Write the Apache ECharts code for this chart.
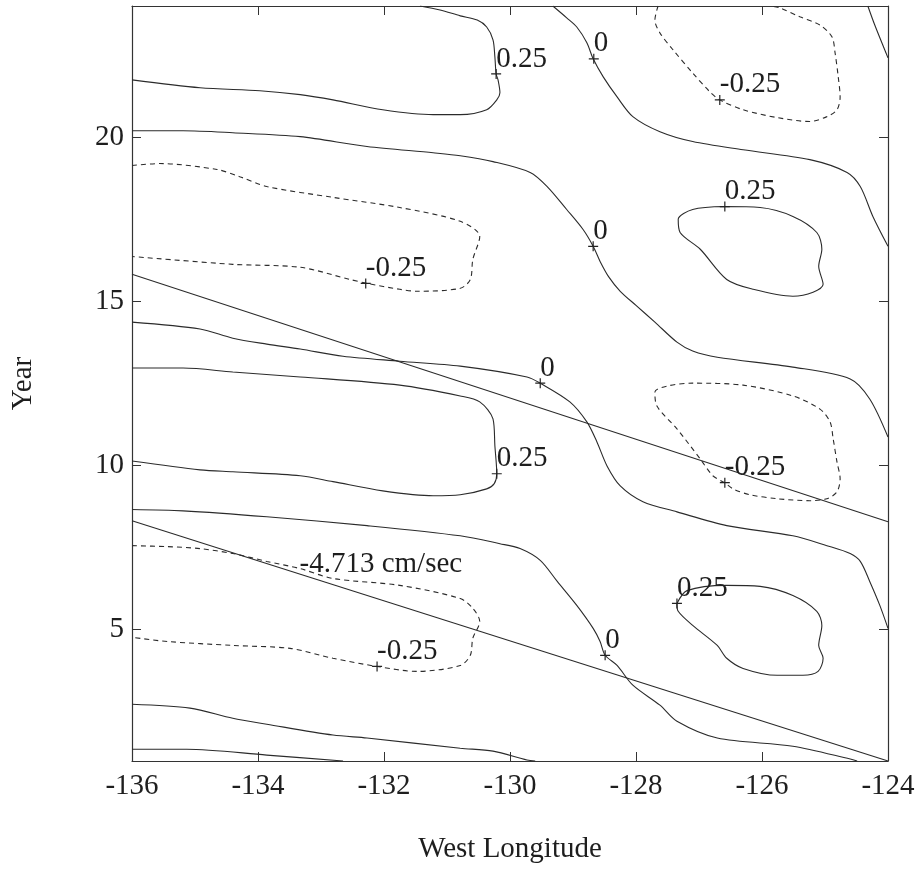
<!DOCTYPE html>
<html>
<head>
<meta charset="utf-8">
<script src="https://cdn.jsdelivr.net/npm/echarts@6/dist/echarts.min.js"></script>
<style>
html,body{margin:0;padding:0;background:#fff;}
#chart{width:920px;height:869px;}
</style>
</head>
<body>
<div id="chart"></div>
<script>
// ---- axis ranges & ticks ----
const lonRange = [-136, -124];
const lonTickStep = 2;
const yearRange = [1, 24];
const yearTicks = [5, 10, 15, 20];

// ---- contour lines: [longitude, year] ----
// level 0.25 (solid), top-left
const c025TopLeft = [[-136,21.75],[-134.92,21.51],[-133.97,21.42],[-133.33,21.30],[-132.81,21.14],[-132.02,20.84],[-131.22,20.69],[-130.79,20.69],[-130.37,20.84],[-130.21,21.14],[-130.16,21.36],[-130.19,21.75],[-130.22,21.93],[-130.24,22.45],[-130.27,22.97],[-130.37,23.36],[-130.52,23.57],[-130.79,23.70],[-131.11,23.88],[-131.43,24.0]];
// level 0 (solid), upper-middle
const c0Upper = [[-136,20.20],[-135.19,20.20],[-134.40,20.14],[-133.33,20.02],[-132.27,19.72],[-131.22,19.53],[-130.79,19.44],[-130.27,19.26],[-129.68,18.93],[-129.41,18.50],[-129.10,17.80],[-128.84,17.19],[-128.68,16.68],[-128.57,16.22],[-128.43,15.74],[-128.25,15.31],[-128.00,14.88],[-127.70,14.37],[-127.35,13.76],[-127.10,13.49],[-126.71,13.30],[-125.51,13.00],[-124.60,12.64],[-124.29,12.03],[-124.00,10.87]];
// level 0 (solid), top
const c0Top = [[-129.32,24.0],[-129.10,23.64],[-128.94,23.36],[-128.78,22.88],[-128.68,22.39],[-128.52,21.84],[-128.30,21.23],[-128.05,20.63],[-127.62,20.17],[-127.10,19.87],[-126.30,19.62],[-125.24,19.32],[-124.65,18.93],[-124.44,18.50],[-124.24,17.59],[-124.00,16.68]];
// solid, top-right corner
const cTopRightCorner = [[-124.32,24.0],[-124.21,23.42],[-124.0,22.42]];
// level -0.25 (dashed), top-right
const cm025TopRight = [[-127.65,24.0],[-127.70,23.57],[-127.62,23.18],[-127.41,22.66],[-127.10,21.96],[-126.83,21.39],[-126.67,21.14],[-126.30,20.84],[-125.76,20.60],[-125.24,20.48],[-124.97,20.63],[-124.81,20.84],[-124.76,21.23],[-124.79,21.84],[-124.84,22.57],[-124.89,23.06],[-125.08,23.42],[-125.40,23.67],[-125.71,23.94],[-125.87,24.0]];
// level 0.25 (solid), closed loop right-middle
const c025RightMid = [[-126.59,17.89],[-126.03,17.86],[-125.51,17.59],[-125.13,17.10],[-125.05,16.59],[-125.10,16.07],[-125.03,15.52],[-125.19,15.28],[-125.51,15.16],[-126.14,15.37],[-126.56,15.67],[-126.98,16.59],[-127.30,17.10],[-127.33,17.50],[-127.10,17.80],[-126.59,17.89]];
// level -0.25 (dashed), left upper
const cm025LeftUpper = [[-136,19.14],[-135.56,19.20],[-134.65,19.02],[-134.29,18.80],[-133.86,18.50],[-132.81,18.17],[-131.75,17.86],[-130.79,17.44],[-130.48,16.98],[-130.59,16.28],[-130.63,15.67],[-130.79,15.40],[-131.48,15.31],[-131.75,15.37],[-132.27,15.55],[-132.54,15.67],[-133.33,16.04],[-134.40,16.13],[-136,16.37]];
// straight propagation lines
const trendUpper = [[-136,15.83],[-124,8.29]];
const trendLower = [[-136,8.32],[-124,1.0]];
// level 0 (solid), centre
const c0Centre = [[-136,14.37],[-134.92,14.16],[-134.40,13.88],[-133.86,13.70],[-133.33,13.55],[-132.65,13.33],[-131.75,13.18],[-130.79,13.03],[-129.73,12.70],[-129.52,12.51],[-129.05,11.94],[-128.78,11.33],[-128.62,10.72],[-128.46,9.99],[-128.25,9.38],[-127.89,8.90],[-127.35,8.59],[-126.56,8.17],[-125.51,7.86],[-124.97,7.56],[-124.60,7.32],[-124.44,7.08],[-124.29,6.47],[-124.13,5.74],[-124.00,5.04]];
// level 0.25 (solid), middle-left
const c025MidLeft = [[-136,12.97],[-135.19,12.97],[-134.40,12.85],[-133.33,12.70],[-131.75,12.45],[-130.79,12.12],[-130.48,11.94],[-130.27,11.42],[-130.24,10.60],[-130.21,9.75],[-130.25,9.45],[-130.37,9.29],[-130.79,9.11],[-131.22,9.08],[-132.02,9.23],[-132.81,9.51],[-133.33,9.69],[-134.40,9.81],[-134.92,9.87],[-136,10.14]];
// level 0 (solid), lower
const c0Lower = [[-136,8.66],[-135.19,8.62],[-133.86,8.44],[-132.27,8.17],[-130.79,7.86],[-130.16,7.62],[-129.84,7.47],[-129.52,7.11],[-129.25,6.47],[-128.94,5.74],[-128.68,5.04],[-128.57,4.64],[-128.49,4.22],[-128.30,3.91],[-128.05,3.31],[-127.62,2.70],[-127.35,2.21],[-126.71,1.70],[-125.51,1.45],[-124.60,1.06],[-124.49,1.0]];
// level -0.25 (dashed), lower-left
const cm025LowerLeft = [[-136,7.56],[-135.44,7.53],[-134.92,7.47],[-134.40,7.32],[-133.86,7.08],[-133.33,6.86],[-132.81,6.56],[-131.75,6.35],[-130.79,5.95],[-130.59,5.65],[-130.48,5.25],[-130.59,4.74],[-130.63,4.22],[-130.79,3.91],[-131.48,3.73],[-132.11,3.88],[-132.81,4.13],[-133.49,4.43],[-134.40,4.52],[-135.44,4.64],[-136,4.77]];
// solid, bottom
const cBottom1 = [[-136,2.73],[-135.08,2.61],[-134.40,2.30],[-133.86,2.12],[-132.81,1.79],[-132.27,1.70],[-130.79,1.39],[-130.27,1.30],[-129.73,1.03],[-129.60,1.0]];
const cBottom2 = [[-136,1.36],[-135.13,1.36],[-133.86,1.18],[-132.65,1.0]];
// level 0.25 (solid), closed loop lower-right
const c025LowerRight = [[-127.35,5.80],[-127.19,6.19],[-126.56,6.35],[-126.03,6.32],[-125.51,6.04],[-125.13,5.56],[-125.05,5.13],[-125.10,4.52],[-125.03,4.13],[-125.11,3.73],[-125.35,3.61],[-125.76,3.61],[-126.30,3.82],[-126.56,4.13],[-126.71,4.52],[-127.10,5.13],[-127.33,5.56],[-127.35,5.80]];
// level -0.25 (dashed), closed loop middle-right
const cm025MidRight = [[-126.59,9.48],[-126.78,9.69],[-126.98,10.20],[-127.35,11.12],[-127.67,11.82],[-127.70,12.24],[-127.51,12.42],[-127.10,12.51],[-126.30,12.45],[-125.51,12.12],[-125.08,11.72],[-124.92,11.33],[-124.87,10.81],[-124.81,10.11],[-124.76,9.60],[-124.81,9.20],[-124.97,8.99],[-125.24,8.93],[-125.76,8.99],[-126.19,9.11],[-126.46,9.29],[-126.59,9.48]];

// ---- contour labels ----
const labelPoints = [[-130.22,21.93],[-128.67,22.39],[-126.67,21.14],[-126.59,17.89],[-128.68,16.68],[-132.29,15.55],[-129.52,12.51],[-130.21,9.75],[-126.59,9.48],[-127.35,5.80],[-128.49,4.22],[-132.11,3.88]];
const labelTexts = ['0.25','0','-0.25','0.25','0','-0.25','0','0.25','-0.25','0.25','0','-0.25'];
const speedLabelPoint = [-132.05, 6.98];
const speedLabelText = '-4.713 cm/sec';

// ---- build chart ----
const FONT = 'Liberation Serif';
const LINE = '#2b2b2b';
const TEXT = '#1e1e1e';
const solidSets = [c025TopLeft, c0Upper, c0Top, cTopRightCorner, c025RightMid, c0Centre, c025MidLeft, c0Lower, cBottom1, cBottom2, c025LowerRight];
const dashedSets = [cm025TopRight, cm025LeftUpper, cm025LowerLeft, cm025MidRight];
const straightSets = [trendUpper, trendLower];

const series = [];
solidSets.forEach(d => series.push({type:'line', data:d, symbol:'none', smooth:0.3, lineStyle:{color:LINE, width:1.1}, silent:true}));
dashedSets.forEach(d => series.push({type:'line', data:d, symbol:'none', smooth:0.3, lineStyle:{color:LINE, width:1.1, type:[5,4]}, silent:true}));
straightSets.forEach(d => series.push({type:'line', data:d, symbol:'none', lineStyle:{color:LINE, width:1.1}, silent:true}));
series.push({
  type:'scatter',
  data:labelPoints,
  symbol:'path://M-0.12,-1 L0.12,-1 L0.12,-0.12 L1,-0.12 L1,0.12 L0.12,0.12 L0.12,1 L-0.12,1 L-0.12,0.12 L-1,0.12 L-1,-0.12 L-0.12,-0.12 Z',
  symbolSize:10,
  itemStyle:{color:'#222', opacity:1},
  label:{show:true, position:'right', distance:0, offset:[-5,-15], formatter:p => labelTexts[p.dataIndex], fontFamily:FONT, fontSize:29, color:TEXT, opacity:1},
  emphasis:{disabled:true},
  silent:true, z:5
});
series.push({
  type:'scatter',
  data:[speedLabelPoint],
  symbolSize:1,
  itemStyle:{color:'rgba(0,0,0,0)', opacity:1},
  label:{show:true, position:'inside', formatter:speedLabelText, fontFamily:FONT, fontSize:29, color:TEXT, opacity:1},
  emphasis:{disabled:true},
  silent:true, z:5
});

const axisLineStyle = {show:true, lineStyle:{color:'#333', width:1.2}};
const option = {
  animation:false,
  backgroundColor:'#fff',
  grid:{left:132, right:32, top:6, bottom:106, containLabel:false},
  xAxis:[
    {type:'value', position:'bottom', min:lonRange[0], max:lonRange[1], interval:lonTickStep,
     axisLine:axisLineStyle, axisTick:{show:true, inside:true, length:9, lineStyle:{color:'#333'}},
     axisLabel:{fontFamily:FONT, fontSize:29, color:TEXT, margin:11},
     splitLine:{show:false},
     name:'West Longitude', nameLocation:'middle', nameGap:74,
     nameTextStyle:{fontFamily:FONT, fontSize:29, color:TEXT}},
    {type:'value', position:'top', min:lonRange[0], max:lonRange[1], interval:lonTickStep,
     axisLine:axisLineStyle, axisTick:{show:true, inside:true, length:9, lineStyle:{color:'#333'}},
     axisLabel:{show:false}, splitLine:{show:false}}
  ],
  yAxis:[
    {type:'value', position:'left', min:yearRange[0], max:yearRange[1],
     axisLine:axisLineStyle, axisTick:{show:true, inside:true, length:9, customValues:yearTicks, lineStyle:{color:'#333'}},
     axisLabel:{fontFamily:FONT, fontSize:29, color:TEXT, margin:8, customValues:yearTicks},
     splitLine:{show:false},
     name:'Year', nameLocation:'middle', nameGap:94, nameRotate:90,
     nameTextStyle:{fontFamily:FONT, fontSize:29, color:TEXT}},
    {type:'value', position:'right', min:yearRange[0], max:yearRange[1],
     axisLine:axisLineStyle, axisTick:{show:true, inside:true, length:9, customValues:yearTicks, lineStyle:{color:'#333'}},
     axisLabel:{show:false}, splitLine:{show:false}}
  ],
  series:series
};
const chart = echarts.init(document.getElementById('chart'), null, {renderer:'canvas'});
chart.setOption(option);
</script>
</body>
</html>
